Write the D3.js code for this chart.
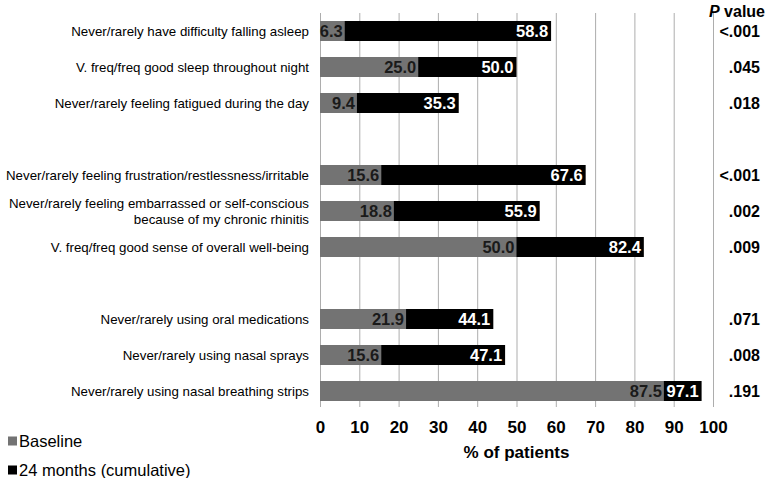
<!DOCTYPE html>
<html>
<head>
<meta charset="utf-8">
<script src="https://cdn.jsdelivr.net/npm/d3@7/dist/d3.min.js"></script>
<style>
  html, body { margin: 0; padding: 0; background: #fff; }
  svg { display: block; font-family: "Liberation Sans", Arial, Helvetica, sans-serif; }
</style>
</head>
<body>
<svg id="chart" width="770" height="478"></svg>
<script>
// ---- data ----
const categories = [
  "Never/rarely have difficulty falling asleep",
  "V. freq/freq good sleep throughout night",
  "Never/rarely feeling fatigued during the day",
  "Never/rarely feeling frustration/restlessness/irritable",
  "Never/rarely feeling embarrassed or self-conscious\nbecause of my chronic rhinitis",
  "V. freq/freq good sense of overall well-being",
  "Never/rarely using oral medications",
  "Never/rarely using nasal sprays",
  "Never/rarely using nasal breathing strips"
];
const groups = [0, 0, 0, 1, 1, 1, 2, 2, 2];
const baseline = [6.3, 25.0, 9.4, 15.6, 18.8, 50.0, 21.9, 15.6, 87.5];
const months24 = [58.8, 50.0, 35.3, 67.6, 55.9, 82.4, 44.1, 47.1, 97.1];
const pValues = ["<.001", ".045", ".018", "<.001", ".002", ".009", ".071", ".008", ".191"];
const xTicks = [0, 10, 20, 30, 40, 50, 60, 70, 80, 90, 100];
const seriesNames = ["Baseline", "24 months (cumulative)"];
const seriesColors = ["#737373", "#000000"];

// ---- layout ----
const svg = d3.select("#chart");
const plotLeft = 320, plotRight = 713, plotTop = 13, plotBottom = 409;

const slots = [];
categories.forEach((c, i) => {
  if (i > 0 && groups[i] !== groups[i - 1]) slots.push("gap" + i);
  slots.push("c" + i);
});

const x = d3.scaleLinear().domain([0, 100]).range([plotLeft, plotRight]);
const y = d3.scaleBand().domain(slots).range([plotTop, plotBottom])
  .paddingInner(16 / 36).paddingOuter(8 / 36);

const axis = d3.axisBottom(x).tickValues(xTicks).tickFormat(d3.format("d"))
  .tickSize(-(407 - plotTop)).tickPadding(14);
const gAxis = svg.append("g").attr("transform", `translate(0,407)`).call(axis);
gAxis.select(".domain").remove();
gAxis.selectAll(".tick line").attr("stroke", "#adadad").attr("stroke-width", 1);
gAxis.selectAll(".tick text").attr("fill", "#000").attr("font-size", 17)
  .attr("font-weight", "bold").attr("font-family", "'Liberation Sans', Arial, sans-serif");

svg.append("text").attr("x", x(50)).attr("y", 458).attr("text-anchor", "middle")
  .attr("font-size", 17).attr("font-weight", "bold").text("% of patients");

const idx = categories.map((c, i) => i);
const yc = i => y("c" + i);
const bw = y.bandwidth();

svg.append("g").selectAll("rect").data(idx).join("rect")
  .attr("x", x(0)).attr("y", i => yc(i))
  .attr("width", i => x(months24[i]) - x(0)).attr("height", bw)
  .attr("fill", seriesColors[1]);
svg.append("g").selectAll("rect").data(idx).join("rect")
  .attr("x", x(0)).attr("y", i => yc(i))
  .attr("width", i => x(baseline[i]) - x(0)).attr("height", bw)
  .attr("fill", seriesColors[0]);

svg.append("g").selectAll("text").data(idx).join("text")
  .attr("x", i => x(baseline[i]) - 2).attr("y", i => yc(i) + bw / 2)
  .attr("dy", "0.36em").attr("text-anchor", "end")
  .attr("font-size", 16.5).attr("font-weight", "bold").attr("fill", "#1a1a1a")
  .text(i => baseline[i].toFixed(1));
svg.append("g").selectAll("text").data(idx).join("text")
  .attr("x", i => x(months24[i]) - 3).attr("y", i => yc(i) + bw / 2)
  .attr("dy", "0.36em").attr("text-anchor", "end")
  .attr("font-size", 16.5).attr("font-weight", "bold").attr("fill", "#fff")
  .text(i => months24[i].toFixed(1));

const gLab = svg.append("g");
idx.forEach(i => {
  const lines = categories[i].split("\n");
  const cy = yc(i) + bw / 2;
  const lh = 16;
  const t = gLab.append("text").attr("text-anchor", "end").attr("font-size", 13.3).attr("fill", "#000");
  lines.forEach((ln, k) => {
    t.append("tspan").attr("x", 309)
      .attr("y", cy + (k - (lines.length - 1) / 2) * lh)
      .attr("dy", "0.36em").text(ln);
  });
});

const hdr = svg.append("text").attr("x", 765).attr("y", 17).attr("text-anchor", "end")
  .attr("font-size", 16).attr("font-weight", "bold");
hdr.append("tspan").attr("font-style", "italic").text("P");
hdr.append("tspan").text(" value");
svg.append("g").selectAll("text").data(idx).join("text")
  .attr("x", 760).attr("y", i => yc(i) + bw / 2).attr("dy", "0.36em")
  .attr("text-anchor", "end").attr("font-size", 16).attr("font-weight", "bold")
  .text(i => pValues[i]);

const leg = svg.append("g");
seriesNames.forEach((s, k) => {
  const ly = 441 + k * 29;
  leg.append("rect").attr("x", 8).attr("y", ly - 4.5).attr("width", 9).attr("height", 9)
    .attr("fill", seriesColors[k]);
  leg.append("text").attr("x", 19).attr("y", ly).attr("dy", "0.36em")
    .attr("font-size", 16.5).attr("fill", "#000").text(s);
});
</script>
</body>
</html>
